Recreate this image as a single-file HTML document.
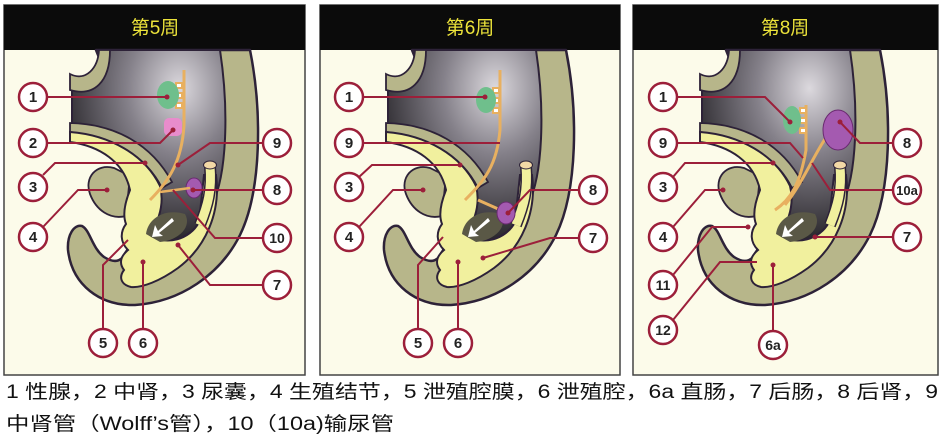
<!DOCTYPE html>
<html><head><meta charset="utf-8"><style>
html,body{margin:0;padding:0;background:#fff;}
svg{display:block;}
</style></head><body>
<svg width="945" height="443" viewBox="0 0 945 443" xmlns="http://www.w3.org/2000/svg">
<defs>
<radialGradient id="dk" cx="0.7" cy="0.2" r="0.85">
<stop offset="0" stop-color="#dcd9de"/><stop offset="0.4" stop-color="#85818a"/><stop offset="1" stop-color="#1c1a1e"/>
</radialGradient>
<g id="anat">
<path d="M96,50 L250,50 C262,110 262,190 240,235 C220,275 180,302 135,305 C100,306 72,285 68,250 C67,235 74,224 82,226 C90,230 92,248 104,257 C112,262 118,262 122,258 L160,200 L100,60 Z" fill="#b7b68a" stroke="#2d2238" stroke-width="2.5" stroke-linejoin="round"/>
<path d="M102,50 L220,50 C229,110 227,175 212,205 C200,228 185,240 165,242 C150,240 145,230 148,215 C150,185 130,150 72,128 L72,88 C88,92 102,75 102,50 Z" fill="url(#dk)" stroke="#2d2238" stroke-width="2"/>
<path d="M70,74 C86,82 98,68 99,50 L110,50 C110,82 94,97 70,90 Z" fill="#b7b68a" stroke="#2d2238" stroke-width="1.8"/>
<path d="M114,168 C96,163 84,178 90,194 C96,210 110,220 126,216 L130,176 Z" fill="#b7b68a" stroke="#2d2238" stroke-width="1.8"/>
<path d="M70,123 C116,124 152,145 172,182 L162,188 C146,156 112,136 70,132 Z" fill="#b7b68a" stroke="#2d2238" stroke-width="1.8"/>
<path d="M70,132 C110,135 145,155 160,186 C165,205 158,222 150,235 C165,246 190,240 199,222 L204,175 L216,175 C221,212 206,247 178,268 C160,281 142,288 131,287 C122,285 118,278 124,270 C118,262 122,255 128,250 C120,242 120,232 126,224 C122,214 126,200 130,190 C124,162 100,146 70,142 Z" fill="#f1f09e" stroke="#2d2238" stroke-width="2"/>
<path d="M146,234 C148,218 165,208 185,214 C192,226 180,240 160,242 Z" fill="#5a5846"/>
<path d="M172,218 L158,231 L155,225 L152,237 L163,236 L159,233 L174,221 Z" fill="#fff"/>
</g>
<g id="tube">
<path d="M210,166 C212,190 208,205 200,225" stroke="#2d2238" stroke-width="12" fill="none"/>
<path d="M210,166 C212,190 208,205 200,225" stroke="#f1f09e" stroke-width="9" fill="none"/>
<ellipse cx="210" cy="165" rx="6.5" ry="4" fill="#f3d9a6" stroke="#2d2238"/>
</g>
</defs>

<g stroke="#444" stroke-width="1.5" fill="#fcfbea">
<rect x="4" y="5" width="301" height="370"/>
<rect x="320" y="5" width="300" height="370"/>
<rect x="633" y="5" width="305" height="370"/>
</g>
<g fill="#0b0b0b">
<rect x="4" y="5" width="301" height="45"/>
<rect x="320" y="5" width="300" height="45"/>
<rect x="633" y="5" width="305" height="45"/>
</g>
<g font-family="Liberation Sans, 'Noto Sans CJK SC', sans-serif" font-size="19" fill="#ece33a" text-anchor="middle">
<text x="155" y="34">第5周</text>
<text x="470" y="34">第6周</text>
<text x="785" y="34">第8周</text>
</g>

<use href="#anat"/><use href="#tube"/>
<use href="#anat" x="316"/><use href="#tube" x="316"/>
<use href="#anat" x="630"/><use href="#tube" x="630"/>

<path d="M184,70 L184,125 C182,160 170,180 150,200" stroke="#e8b060" stroke-width="3" fill="none"/>
<g stroke="#e8b060" stroke-width="2" fill="#fff"><rect x="176" y="83" width="6" height="5"/><rect x="176" y="93" width="6" height="5"/><rect x="176" y="103" width="6" height="5"/></g>
<ellipse cx="168" cy="95" rx="11" ry="14" fill="#6fbf8c"/>
<rect x="164" y="118" width="18" height="18" rx="5" fill="#e88ccc"/>
<ellipse cx="194" cy="188" rx="8" ry="10" fill="#a45ab0" stroke="#6a2a70"/>
<path d="M160,192 L190,188" stroke="#e8b060" stroke-width="2.5"/>
<path d="M500,70 L500,130 C497,165 485,180 465,200 M478,200 L505,212" stroke="#e8b060" stroke-width="3" fill="none"/>
<g stroke="#e8b060" stroke-width="2" fill="#fff"><rect x="493" y="88" width="6" height="5"/><rect x="493" y="98" width="6" height="5"/><rect x="493" y="108" width="6" height="5"/></g>
<ellipse cx="486" cy="100" rx="10" ry="13" fill="#6fbf8c"/>
<ellipse cx="506" cy="213" rx="9" ry="11" fill="#a45ab0" stroke="#6a2a70"/>
<path d="M806,105 L806,150 C800,185 790,200 775,210 M835,125 C815,150 805,180 785,205" stroke="#e8b060" stroke-width="3" fill="none"/>
<g stroke="#e8b060" stroke-width="2" fill="#fff"><rect x="800" y="108" width="6" height="5"/><rect x="800" y="118" width="6" height="5"/><rect x="800" y="128" width="6" height="5"/></g>
<ellipse cx="792" cy="120" rx="9" ry="14" fill="#6fbf8c"/>
<ellipse cx="838" cy="130" rx="15" ry="20" fill="#a45ab0" stroke="#6a2a70"/>

<g stroke="#9c1f3a" stroke-width="2" fill="none">
<path d="M47,97 H167"/><path d="M47,143 H160 L173,130"/><path d="M43,175 L55,163 H145"/><path d="M43,227 L78,190 H107"/>
<path d="M263,143 H210 L178,165"/><path d="M263,190 H193"/><path d="M263,238 H215 L173,190"/><path d="M263,285 H210 L178,245"/>
<path d="M103,329 V265 L128,240"/><path d="M143,329 V262"/>
<path d="M363,97 H485"/><path d="M363,143 H500"/><path d="M359,177 L372,165 H460"/><path d="M359,227 L393,190 H423"/>
<path d="M579,190 H530 L508,213"/><path d="M579,238 H550 L483,258"/>
<path d="M418,329 V265 L443,237"/><path d="M458,329 V262"/>
<path d="M677,97 H765 L790,122"/><path d="M677,143 H790 L803,158"/><path d="M673,177 L685,163 H773"/><path d="M673,227 L705,190 H723"/>
<path d="M673,275 L712,227 H748"/><path d="M673,320 L720,262 H757"/>
<path d="M893,143 H860 L840,122"/><path d="M893,190 H830 L812,163"/><path d="M893,237 H815"/><path d="M773,331 V265"/>
</g>
<g fill="#9c1f3a">
<circle cx="167" cy="97" r="2.5"/><circle cx="173" cy="130" r="2.5"/><circle cx="145" cy="163" r="2.5"/><circle cx="107" cy="190" r="2.5"/><circle cx="178" cy="165" r="2.5"/><circle cx="193" cy="190" r="2.5"/><circle cx="178" cy="245" r="2.5"/><circle cx="143" cy="262" r="2.5"/>
<circle cx="485" cy="97" r="2.5"/><circle cx="460" cy="165" r="2.5"/><circle cx="423" cy="190" r="2.5"/><circle cx="508" cy="213" r="2.5"/><circle cx="483" cy="258" r="2.5"/><circle cx="458" cy="262" r="2.5"/>
<circle cx="790" cy="122" r="2.5"/><circle cx="773" cy="163" r="2.5"/><circle cx="723" cy="190" r="2.5"/><circle cx="748" cy="227" r="2.5"/><circle cx="840" cy="122" r="2.5"/><circle cx="815" cy="237" r="2.5"/><circle cx="773" cy="265" r="2.5"/>
</g>

<g stroke="#9c1f3a" stroke-width="2.5" fill="#fff">
<circle cx="33" cy="97" r="14"/><circle cx="33" cy="143" r="14"/><circle cx="33" cy="187" r="14"/><circle cx="33" cy="237" r="14"/>
<circle cx="277" cy="143" r="14"/><circle cx="277" cy="190" r="14"/><circle cx="277" cy="238" r="14"/><circle cx="277" cy="285" r="14"/>
<circle cx="103" cy="343" r="14"/><circle cx="143" cy="343" r="14"/>
<circle cx="349" cy="97" r="14"/><circle cx="349" cy="143" r="14"/><circle cx="349" cy="187" r="14"/><circle cx="349" cy="237" r="14"/>
<circle cx="593" cy="190" r="14"/><circle cx="593" cy="238" r="14"/>
<circle cx="418" cy="343" r="14"/><circle cx="458" cy="343" r="14"/>
<circle cx="663" cy="97" r="14"/><circle cx="663" cy="143" r="14"/><circle cx="663" cy="187" r="14"/><circle cx="663" cy="237" r="14"/><circle cx="663" cy="285" r="14"/><circle cx="663" cy="330" r="14"/>
<circle cx="907" cy="143" r="14"/><circle cx="907" cy="190" r="14"/><circle cx="907" cy="237" r="14"/><circle cx="773" cy="345" r="14"/>
</g>
<g font-family="Liberation Sans, sans-serif" font-weight="bold" font-size="15" fill="#222" text-anchor="middle">
<text x="33" y="102">1</text><text x="33" y="148">2</text><text x="33" y="192">3</text><text x="33" y="242">4</text>
<text x="277" y="148">9</text><text x="277" y="195">8</text><text x="277" y="243" font-size="14">10</text><text x="277" y="290">7</text>
<text x="103" y="348">5</text><text x="143" y="348">6</text>
<text x="349" y="102">1</text><text x="349" y="148">9</text><text x="349" y="192">3</text><text x="349" y="242">4</text>
<text x="593" y="195">8</text><text x="593" y="243">7</text><text x="418" y="348">5</text><text x="458" y="348">6</text>
<text x="663" y="102">1</text><text x="663" y="148">9</text><text x="663" y="192">3</text><text x="663" y="242">4</text><text x="663" y="290" font-size="14">11</text><text x="663" y="335" font-size="14">12</text>
<text x="907" y="148">8</text><text x="907" y="195" font-size="13">10a</text><text x="907" y="242">7</text><text x="773" y="350" font-size="14">6a</text>
</g>

<g font-family="Liberation Sans, 'Noto Sans CJK SC', sans-serif" font-size="19" fill="#111">
<text x="6" y="398" textLength="932" lengthAdjust="spacingAndGlyphs">1 性腺，2 中肾，3 尿囊，4 生殖结节，5 泄殖腔膜，6 泄殖腔，6a 直肠，7 后肠，8 后肾，9</text>
<text x="6" y="430" textLength="388" lengthAdjust="spacingAndGlyphs">中肾管（Wolff’s管），10（10a)输尿管</text>
</g>
</svg>
</body></html>
